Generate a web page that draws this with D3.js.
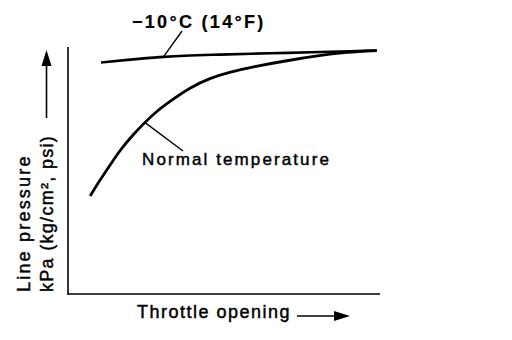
<!DOCTYPE html>
<html>
<head>
<meta charset="utf-8">
<script src="https://cdn.jsdelivr.net/npm/d3@7"></script>
<style>
  body { margin: 0; background: #fff; }
  text { font-family: "Liberation Sans", Arial, sans-serif; fill: #000; stroke: #000; stroke-width: 0.45px; }
</style>
</head>
<body>
<div id="chart"></div>
<script>
// data (throttle opening %, line pressure % of max)
var coldThrottle = [10.6, 19.9, 29.5, 39.1, 48.7, 58.3, 71.2, 80.8, 90.4, 99.0];
var coldPressure = [93.7, 94.9, 96.0, 96.6, 96.9, 97.3, 97.6, 98.0, 98.3, 98.6];
var normThrottle = [7.1, 10.3, 13.5, 16.7, 20.8, 24.7, 28.5, 32.7, 39.1, 45.5, 51.9, 59.3, 70.2, 80.8, 89.4, 99.0];
var normPressure = [39.7, 46.2, 52.2, 58.3, 64.4, 69.6, 74.1, 78.0, 83.6, 87.4, 89.9, 92.0, 94.5, 96.6, 97.9, 98.5];
var coldLabel = "\u221210\u00b0C (14\u00b0F)";
var normLabel = "Normal temperature";
var xLabel = "Throttle opening";
var yLabel1 = "Line pressure";
var yLabel2 = "kPa (kg/cm\u00b2, psi)";

var W = 512, H = 340;
var margin = {top: 47, right: 132, bottom: 46, left: 68};

var svg = d3.select("#chart")
  .append("svg")
    .attr("width", W)
    .attr("height", H);

var x = d3.scaleLinear()
  .domain([0, 100])
  .range([margin.left, W - margin.right]);
var y = d3.scaleLinear()
  .domain([0, 100])
  .range([H - margin.bottom, margin.top]);

// axes: plain lines, no ticks
svg.append("line")
  .attr("x1", x(0)).attr("x2", x(0))
  .attr("y1", y(100)).attr("y2", y(0) + 1)
  .attr("stroke", "#000").attr("stroke-width", 1.6);
svg.append("line")
  .attr("x1", x(0)).attr("x2", x(100))
  .attr("y1", y(0)).attr("y2", y(0))
  .attr("stroke", "#000").attr("stroke-width", 1.4);

var line = d3.line()
  .x(function (d) { return x(d[0]); })
  .y(function (d) { return y(d[1]); })
  .curve(d3.curveBasis);

var cold = d3.zip(coldThrottle, coldPressure);
var norm = d3.zip(normThrottle, normPressure);

svg.append("path")
  .datum(cold)
  .attr("d", line)
  .attr("fill", "none")
  .attr("stroke", "#000")
  .attr("stroke-width", 2.6);
svg.append("path")
  .datum(norm)
  .attr("d", line)
  .attr("fill", "none")
  .attr("stroke", "#000")
  .attr("stroke-width", 2.8);

// leader lines to the labels
svg.append("line")
  .attr("x1", x(30.7)).attr("y1", y(96.2))
  .attr("x2", 182).attr("y2", 31)
  .attr("stroke", "#000").attr("stroke-width", 1.4);
svg.append("line")
  .attr("x1", x(24.7)).attr("y1", y(69.4))
  .attr("x2", 183).attr("y2", 151)
  .attr("stroke", "#000").attr("stroke-width", 1.4);

svg.append("text")
  .attr("x", 132).attr("y", 28)
  .style("font-size", "18px")
  .style("font-weight", "bold")
  .style("letter-spacing", "2.3px")
  .style("stroke-width", "0.2px")
  .text(coldLabel);

svg.append("text")
  .attr("x", 142).attr("y", 165)
  .style("font-size", "17px")
  .style("letter-spacing", "2.1px")
  .text(normLabel);

// x axis title with arrow
svg.append("text")
  .attr("x", 137).attr("y", 318)
  .style("font-size", "18px")
  .style("letter-spacing", "1.5px")
  .text(xLabel);
svg.append("line")
  .attr("x1", 297).attr("x2", 338)
  .attr("y1", 316).attr("y2", 316)
  .attr("stroke", "#000").attr("stroke-width", 1.6);
svg.append("path")
  .attr("d", "M350,316 L334,311 L334,321 Z")
  .attr("fill", "#000");

// y axis title, two rotated lines, with arrow
svg.append("text")
  .attr("transform", "translate(30,292) rotate(-90)")
  .style("font-size", "18px")
  .style("letter-spacing", "2.2px")
  .text(yLabel1);
svg.append("text")
  .attr("transform", "translate(53,292) rotate(-90)")
  .style("font-size", "18px")
  .style("letter-spacing", "1.3px")
  .text(yLabel2);
svg.append("line")
  .attr("x1", 46.5).attr("x2", 46.5)
  .attr("y1", 118).attr("y2", 62)
  .attr("stroke", "#000").attr("stroke-width", 1.6);
svg.append("path")
  .attr("d", "M46.5,50 L41.5,66 L51.5,66 Z")
  .attr("fill", "#000");
</script>
</body>
</html>
